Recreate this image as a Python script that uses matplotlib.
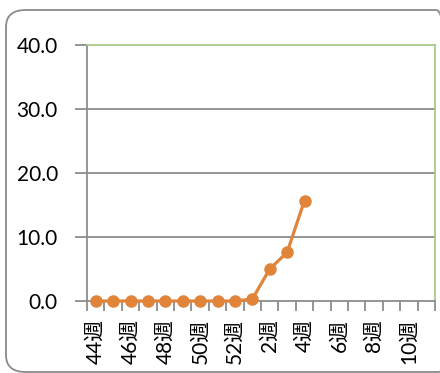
import matplotlib
matplotlib.use("Agg")
import matplotlib.pyplot as plt
from matplotlib.patches import FancyBboxPatch

plt.rcParams['font.family'] = ['Lato', 'Noto Sans CJK JP', 'DejaVu Sans']

# week categories on the x axis (44週 .. 52週, then 1週 .. 11週)
weeks = [f"{w}週" for w in range(44, 53)] + [f"{w}週" for w in range(1, 12)]
# reported values per week (only the first 13 weeks have data)
values = [0.0, 0.0, 0.0, 0.0, 0.0, 0.0, 0.0, 0.0, 0.0, 0.3, 5.0, 7.6, 15.7]
y_ticks = [0, 10, 20, 30, 40]

LINE = "#E0843A"
GRID = "#8C8C8C"
FRAME = "#A9C98A"
FS = 15

fig = plt.figure(figsize=(4.4, 3.73), dpi=100)

# rounded chart border (runs off the right edge of the image)
border = FancyBboxPatch((6 / 440, 1 - 372 / 373), 450 / 440, 362 / 373,
                        boxstyle="round,pad=0,rounding_size=0.045",
                        transform=fig.transFigure, fill=False,
                        edgecolor="#8A8A8A", linewidth=1.3, clip_on=False)
fig.patches.append(border)

ax = fig.add_axes([87 / 440, 1 - 301 / 373, 348 / 440, 256 / 373])

x = list(range(len(values)))
ax.plot(x, values, color=LINE, linewidth=2.3, marker="o", markersize=8,
        markeredgecolor=LINE, zorder=3, clip_on=False)

ax.set_xlim(-0.5, len(weeks) - 0.5)
ax.set_ylim(0, 40)

# horizontal gridlines
for v in y_ticks[1:-1]:
    ax.axhline(v, color=GRID, linewidth=1.3, zorder=1)

ax.set_yticks(y_ticks)
ax.set_yticklabels([f"{v:.1f}" for v in y_ticks], fontsize=FS)
ax.tick_params(axis="y", length=9, width=1.3, color=GRID, pad=12)

# tick marks between categories, labels on every other week
ax.set_xticks([i - 0.5 for i in range(len(weeks) + 1)])
ax.set_xticklabels([])
ax.tick_params(axis="x", which="major", length=7, width=1.3, color=GRID)
ax.set_xticks(range(0, len(weeks), 2), minor=True)
ax.set_xticklabels(weeks[::2], minor=True, rotation=90, fontsize=FS)
ax.tick_params(axis="x", which="minor", length=0, pad=13)

for side in ("left", "bottom"):
    ax.spines[side].set_color(GRID)
    ax.spines[side].set_linewidth(1.3)
for side in ("top", "right"):
    ax.spines[side].set_color(FRAME)
    ax.spines[side].set_linewidth(1.3)

fig.savefig("out.png", dpi=100)
